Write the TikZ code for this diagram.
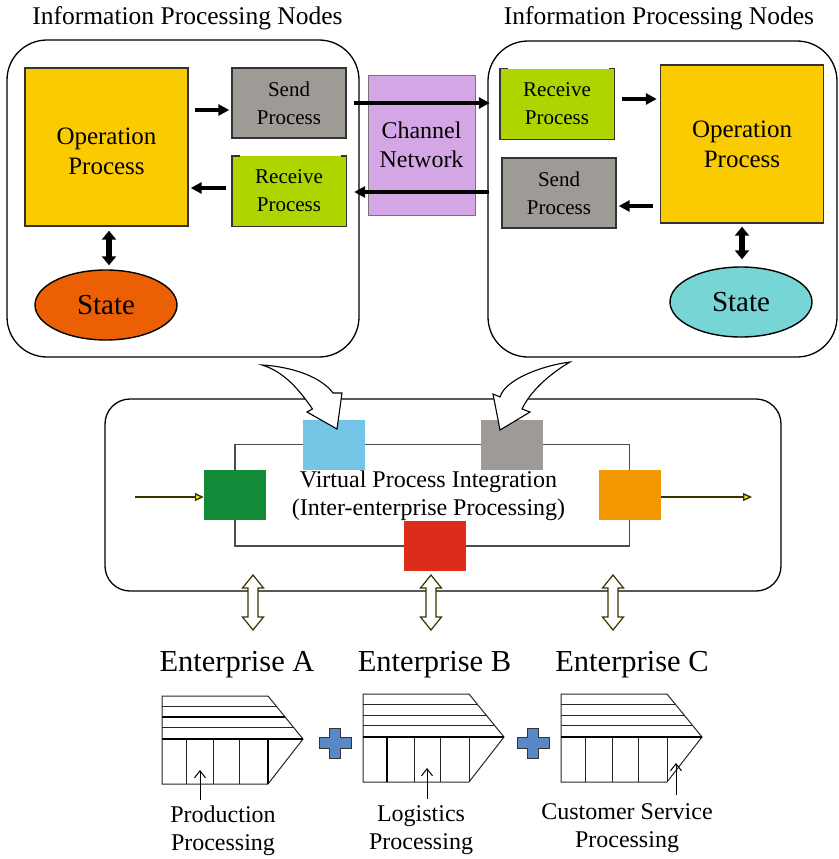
\documentclass[tikz,border=0pt]{standalone}
\usepackage{fontspec}
\setmainfont{Liberation Serif}
\usetikzlibrary{arrows.meta,shapes.geometric}

\definecolor{opcol}{HTML}{FACB00}
\definecolor{sendcol}{HTML}{9E9A96}
\definecolor{recvcol}{HTML}{AED500}
\definecolor{chancol}{HTML}{D5A6E6}
\definecolor{stateLcol}{HTML}{EB6005}
\definecolor{stateRcol}{HTML}{77D5D6}
\definecolor{sqblue}{HTML}{75C5E6}
\definecolor{sqgray}{HTML}{9E9A97}
\definecolor{sqgreen}{HTML}{128A38}
\definecolor{sqorange}{HTML}{F39800}
\definecolor{sqred}{HTML}{DC2C1C}
\definecolor{pluscol}{HTML}{5A88C7}
\definecolor{olive}{HTML}{3A3300}

\tikzset{
  group/.style={draw=black, line width=1.3pt, rounded corners=40pt, inner sep=0pt},
  title/.style={font=\fontsize{25.5}{30}\selectfont, inner sep=0pt},
  procline/.style={draw=black!80, line width=1.4pt},
  opbox/.style={procline, fill=opcol, minimum width=163pt, minimum height=158pt,
    align=center, inner sep=0pt, font=\fontsize{25}{30}\selectfont},
  smallbox/.style={minimum width=114pt, minimum height=70pt, align=center,
    inner sep=0pt, font=\fontsize{21}{28}\selectfont},
  sendbox/.style={smallbox, procline, fill=sendcol},
  recvbox/.style={smallbox, fill=recvcol},
  chanbox/.style={draw=black!55, line width=1pt, fill=chancol, minimum width=107pt,
    minimum height=140pt, align=center, inner sep=0pt, font=\fontsize{24}{29}\selectfont},
  statebox/.style={ellipse, draw=black, line width=1.4pt, minimum width=142pt,
    minimum height=70pt, inner sep=0pt, font=\fontsize{29}{30}\selectfont},
  blk/.style={line width=4.5pt, -{Triangle[length=11pt,width=11pt]}},
  blkboth/.style={line width=5.5pt, {Triangle[length=9pt,width=14pt]}-{Triangle[length=9pt,width=14pt]}},
  midbox/.style={draw=black, line width=1.3pt, rounded corners=25pt, inner sep=0pt},
  sq/.style={minimum width=62pt, minimum height=50pt, inner sep=0pt},
  loopline/.style={draw=black!70, line width=1.6pt},
  yarrow/.style={draw=olive, line width=1.4pt,
    -{Triangle[length=9pt,width=8pt,fill=yellow]}},
  midtext/.style={align=center, inner sep=0pt, font=\fontsize{24}{28}\selectfont},
  hollow/.style={draw=olive, line width=1.2pt, fill=white},
  entlabel/.style={font=\fontsize{30.5}{32}\selectfont, inner sep=0pt},
  entline/.style={draw=black!85, line width=1pt},
  entthick/.style={draw=black, line width=2.2pt},
  sublabel/.style={align=center, inner sep=0pt, font=\fontsize{24}{28}\selectfont},
  smallarr/.style={draw=black, line width=1pt, -{Straight Barb[length=7pt,width=11pt]}},
  dblarr/.pic={
    \draw[hollow] (0,-27.5) -- (10.5,-14.5) -- (5,-14.5) -- (5,14.5) -- (10.5,14.5)
      -- (0,27.5) -- (-10.5,14.5) -- (-5,14.5) -- (-5,-14.5) -- (-10.5,-14.5) -- cycle;
  },
  plussign/.pic={
    \draw[fill=pluscol, draw=black!80, line width=1pt]
      (-5.5,-15) -- (5.5,-15) -- (5.5,-5.5) -- (16,-5.5) -- (16,5.5) -- (5.5,5.5)
      -- (5.5,15) -- (-5.5,15) -- (-5.5,5.5) -- (-16,5.5) -- (-16,-5.5) -- (-5.5,-5.5) -- cycle;
  },
  entframe/.pic={
    \draw[entline] (0,0) -- (106,0) -- (141,43) -- (106,88) -- (0,88) -- cycle;
    \draw[entline] (0,10) -- (114.1,10) (0,21) -- (123.1,21) (0,31) -- (131.2,31);
    \draw[entline] (24,43) -- (24,88) (51,43) -- (51,88) (77,43) -- (77,88) (106,43) -- (106,88);
    \draw[entthick] (0,43) -- (141,43);
  }
}

\begin{document}
\begin{tikzpicture}[x=1pt, y=-1pt]
\useasboundingbox (0,0) rectangle (838,859);

% ---------- two information processing nodes ----------
\node[group, minimum width=352pt, minimum height=317pt] (grpL) at (183,198.5) {};
\node[group, minimum width=349pt, minimum height=316pt] (grpR) at (662.5,199) {};
\node[title, anchor=base] (ttlL) at (187.5,25) {Information Processing Nodes};
\node[title, anchor=base] (ttlR) at (659,25) {Information Processing Nodes};

\node[chanbox] (chan) at (421.5,145) {Channel\\Network};

\node[opbox] (opL) at (106.5,147) {\\[-4pt]Operation\\Process};
\node[sendbox] (sendL) at (289,103) {Send\\Process};
\node[recvbox] (recvL) at (289,191) {Receive\\Process};
\draw[procline] ([xshift=8pt]recvL.north west) -- (recvL.north west) -- (recvL.south west)
  -- (recvL.south east) -- (recvL.north east) -- ([xshift=-5pt]recvL.north east);
\node[statebox, fill=stateLcol] (stL) at (106,305) {State};

\node[recvbox] (recvR) at (557,104) {Receive\\Process};
\draw[procline] ([xshift=8pt]recvR.north west) -- (recvR.north west) -- (recvR.south west)
  -- (recvR.south east) -- (recvR.north east) -- ([xshift=-5pt]recvR.north east);
\node[sendbox] (sendR) at (559,193) {Send\\Process};
\node[opbox] (opR) at (742,144) {Operation\\Process};
\node[statebox, fill=stateRcol] (stR) at (741,302) {State};

% internal flows
\draw[blk, shorten <=6pt, shorten >=2pt] ([yshift=-7pt]sendL.west -| opL.east) -- ([yshift=-7pt]sendL.west);
\draw[blk, shorten <=6pt, shorten >=2pt] ([yshift=3pt]recvL.west) -- ([yshift=3pt]recvL.west -| opL.east);
\draw[blkboth, shorten <=4pt, shorten >=4pt] ([xshift=2.5pt]opL.south) -- ([xshift=2.5pt]opL.south |- stL.north);
\draw[blk, shorten <=8pt, shorten >=3pt] ([yshift=5pt]recvR.east) -- ([yshift=5pt]recvR.east -| opR.west);
\draw[blk, shorten <=7pt, shorten >=2pt] ([yshift=-13pt]sendR.east -| opR.west) -- ([yshift=-13pt]sendR.east);
\draw[blkboth, shorten <=3pt, shorten >=7pt] (opR.south) -- (opR.south |- stR.north);

% exchanges through the channel network
\draw[blk, shorten <=7pt, shorten >=10pt] (sendL.east) -- (sendL.east -| recvR.west);
\draw[blk, shorten <=12pt, shorten >=8pt] ([yshift=1pt]sendR.west) -- ([yshift=1pt]sendR.west -| recvL.east);

% ---------- virtual process integration ----------
\node[midbox, minimum width=676pt, minimum height=192pt] (vbox) at (443,495) {};

\node[sq, fill=sqblue] (sqBlue) at (334,444.5) {};
\node[sq, fill=sqgray] (sqGray) at (512,444.5) {};
\node[sq, fill=sqgreen] (sqGreen) at (235,495) {};
\node[sq, fill=sqorange] (sqOrange) at (629.5,495) {};
\node[sq, fill=sqred] (sqRed) at (435,546) {};

\draw[loopline] (sqGreen.north) |- (sqBlue.west) (sqBlue.east) -- (sqGray.west)
  (sqGray.east) -| (sqOrange.north) (sqOrange.south) |- (sqRed.east)
  (sqRed.west) -| (sqGreen.south);

\coordinate (inA) at (135,497);
\coordinate (outA) at (752,497);
\draw[yarrow] (inA) -- (inA -| sqGreen.west);
\draw[yarrow] (outA -| sqOrange.east) -- (outA);

\node[midtext] (vpi) at (428.5,495.5) {Virtual Process Integration\\(Inter-enterprise Processing)};

% curved block arrows from the two nodes
\draw[hollow, draw=black, line width=1.1pt] (262,365) .. controls (295,367) and (322,378) .. (333,393)
  -- (342,393) -- (337,429) -- (307,412) -- (312.5,409)
  .. controls (300,391) and (285,372) .. (262,365) -- cycle;
\draw[hollow, draw=black, line width=1.1pt] (570,362) .. controls (540,366) and (505,380) .. (500,397)
  -- (493,394) -- (500,430) -- (530,412) -- (522,409)
  .. controls (530,392) and (548,375) .. (570,362) -- cycle;

% ---------- enterprises ----------
\pic at (253,602.5) {dblarr};
\pic at (431,602.5) {dblarr};
\pic at (613,602.5) {dblarr};

\node[entlabel, anchor=base] (entA) at (237,671) {Enterprise A};
\node[entlabel, anchor=base] (entB) at (434.5,671) {Enterprise B};
\node[entlabel, anchor=base] (entC) at (632,671) {Enterprise C};

\begin{scope}[shift={(162,696)}]
  \pic {entframe};
  \draw[entthick] (0,21) -- (123.1,21) (106,43) -- (106,88);
\end{scope}
\begin{scope}[shift={(363,694)}]
  \pic {entframe};
  \draw[entthick] (24,43) -- (24,88);
\end{scope}
\begin{scope}[shift={(561,694)}]
  \pic {entframe};
\end{scope}

\pic at (335,743) {plussign};
\pic at (533,743) {plussign};

\node[sublabel] (labA) at (223,831) {Production\\Processing};
\node[sublabel] (labB) at (421,830) {Logistics\\Processing};
\node[sublabel] (labC) at (627,828) {Customer Service\\Processing};

\coordinate (ptA) at (200,770);
\coordinate (ptB) at (427,768);
\coordinate (ptC) at (676,763);
\draw[smallarr] ([yshift=6pt]labA.north -| ptA) -- (ptA);
\draw[smallarr] ([yshift=6pt]labB.north -| ptB) -- (ptB);
\draw[smallarr] ([yshift=8pt]labC.north -| ptC) -- (ptC);
\end{tikzpicture}
\end{document}
